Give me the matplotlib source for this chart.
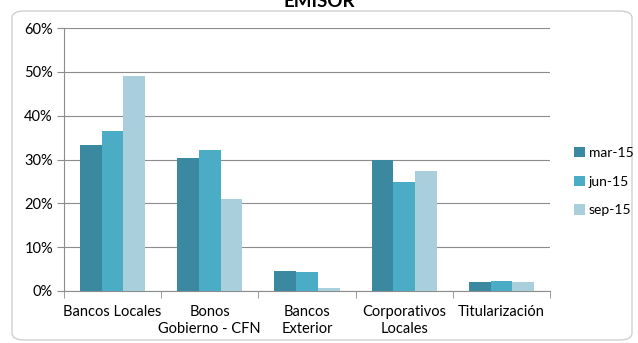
import matplotlib
matplotlib.use("Agg")
import matplotlib.pyplot as plt
import numpy as np
from matplotlib.patches import FancyBboxPatch

categories = ["Bancos Locales", "Bonos\nGobierno - CFN", "Bancos\nExterior",
              "Corporativos\nLocales", "Titularización"]
series = ["mar-15", "jun-15", "sep-15"]
mar15 = [33.3, 30.3, 4.6, 29.8, 2.0]
jun15 = [36.5, 32.2, 4.4, 24.8, 2.2]
sep15 = [49.0, 21.1, 0.6, 27.3, 2.0]
colors = ["#3a89a0", "#4bacc6", "#a9cfdc"]

plt.rcParams['font.family'] = ['Lato', 'DejaVu Sans']

fig = plt.figure(figsize=(6.38, 3.43), dpi=100)
border = FancyBboxPatch((12 / 638, 3 / 343), 620 / 638, 329 / 343,
                        boxstyle="round,pad=0,rounding_size=0.02",
                        transform=fig.transFigure, facecolor="white",
                        edgecolor="#d0d0d0", lw=1, zorder=-5)
fig.patches.append(border)

ax = fig.add_axes([64 / 638, 1 - 291 / 343, 486 / 638, 263 / 343])
ax.set_zorder(2)
ax.set_facecolor("none")
x = np.arange(len(categories))
w = 0.223
for i, (vals, name) in enumerate(zip([mar15, jun15, sep15], series)):
    ax.bar(x + (i - 1) * w, vals, w, color=colors[i], label=name, zorder=3)

ax.set_xlim(-0.5, len(categories) - 0.5)
ax.set_ylim(0, 60)
ax.set_yticks(range(0, 61, 10))
ax.set_yticklabels([f"{v}%" for v in range(0, 61, 10)], fontsize=10.5)
ax.yaxis.grid(True, color="#8c8c8c", lw=0.8, zorder=0)
ax.set_xticks(x)
ax.set_xticklabels(categories, fontsize=10.5, linespacing=1.25)
ax.set_xticks(np.arange(-0.5, len(categories)), minor=True)
ax.tick_params(axis="x", which="major", length=0, pad=10)
ax.tick_params(axis="x", which="minor", length=5, color="#8c8c8c")
ax.tick_params(axis="y", length=5, color="#8c8c8c", pad=3)
for s in ["top", "right"]:
    ax.spines[s].set_visible(False)
ax.spines["left"].set_color("#8c8c8c")
ax.spines["bottom"].set_color("#8c8c8c")

ax.legend(loc="upper left", bbox_to_anchor=(1.024, 0.595), frameon=False,
          fontsize=10, handlelength=0.75, handleheight=0.75, handletextpad=0.3,
          labelspacing=1.2)

fig.text(0.5, 1 - 7 / 343, "EMISOR", ha="center", va="baseline",
         fontsize=13.5, fontweight="bold")

fig.savefig("out.png", dpi=100)
